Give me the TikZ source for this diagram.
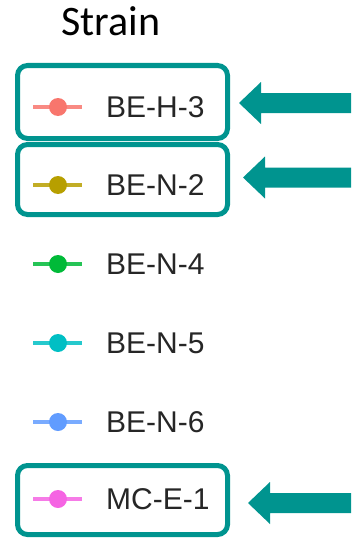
\documentclass[tikz,border=0pt]{standalone}
\usepackage{fontspec}
\setmainfont{Liberation Sans}
\newfontfamily\calib{Carlito}
\definecolor{teal1}{RGB}{0,148,143}
\definecolor{cA}{HTML}{F8766D}
\definecolor{cB}{HTML}{B79F00}
\definecolor{cC}{HTML}{00BA38}
\definecolor{cD}{HTML}{00BFC4}
\definecolor{cE}{HTML}{619CFF}
\definecolor{cF}{HTML}{F564E3}
\tikzset{
  hlbox/.style={draw=teal1, line width=5pt, rounded corners=10pt},
  lbl/.style={anchor=west, inner sep=0pt, text=black!85, font=\fontsize{30}{30}\selectfont},
  pointer/.style={fill=teal1, draw=none},
}
\newcommand{\legrow}[4]{%
  \draw[#2, line width=3.5pt, opacity=0.85] (33,#3) -- (82,#3);
  \fill[#2] (58,#3) circle (9pt);
  \node[lbl] (#1) at (106,#3) {\vphantom{B}#4};
}
\newcommand{\pointarrow}[2]{%
  \fill[pointer] (#1,#2) -- ++(22,-21) -- ++(0,11) -- (351,#2-10) -- (351,#2+10) -- (#1+22,#2+10) -- ++(0,11) -- cycle;
}
\begin{document}
\begin{tikzpicture}[x=1pt,y=-1pt]
\useasboundingbox (0,0) rectangle (351,543);
\node[anchor=base west, inner sep=0pt, font=\calib\fontsize{42}{42}\selectfont] (title) at (61,36) {Strain};
\legrow{r1}{cA}{107}{BE-H-3}
\legrow{r2}{cB}{185}{BE-N-2}
\legrow{r3}{cC}{264}{BE-N-4}
\legrow{r4}{cD}{343}{BE-N-5}
\legrow{r5}{cE}{422}{BE-N-6}
\legrow{r6}{cF}{499}{MC-E-1}
\draw[hlbox] (17.5,65.5) rectangle (227.5,138.5);
\draw[hlbox] (17.5,144.5) rectangle (227.5,214.5);
\draw[hlbox] (17.5,465.5) rectangle (227.5,534.5);
\pointarrow{239}{103}
\pointarrow{243}{177.5}
\pointarrow{248}{503}
\end{tikzpicture}
\end{document}
